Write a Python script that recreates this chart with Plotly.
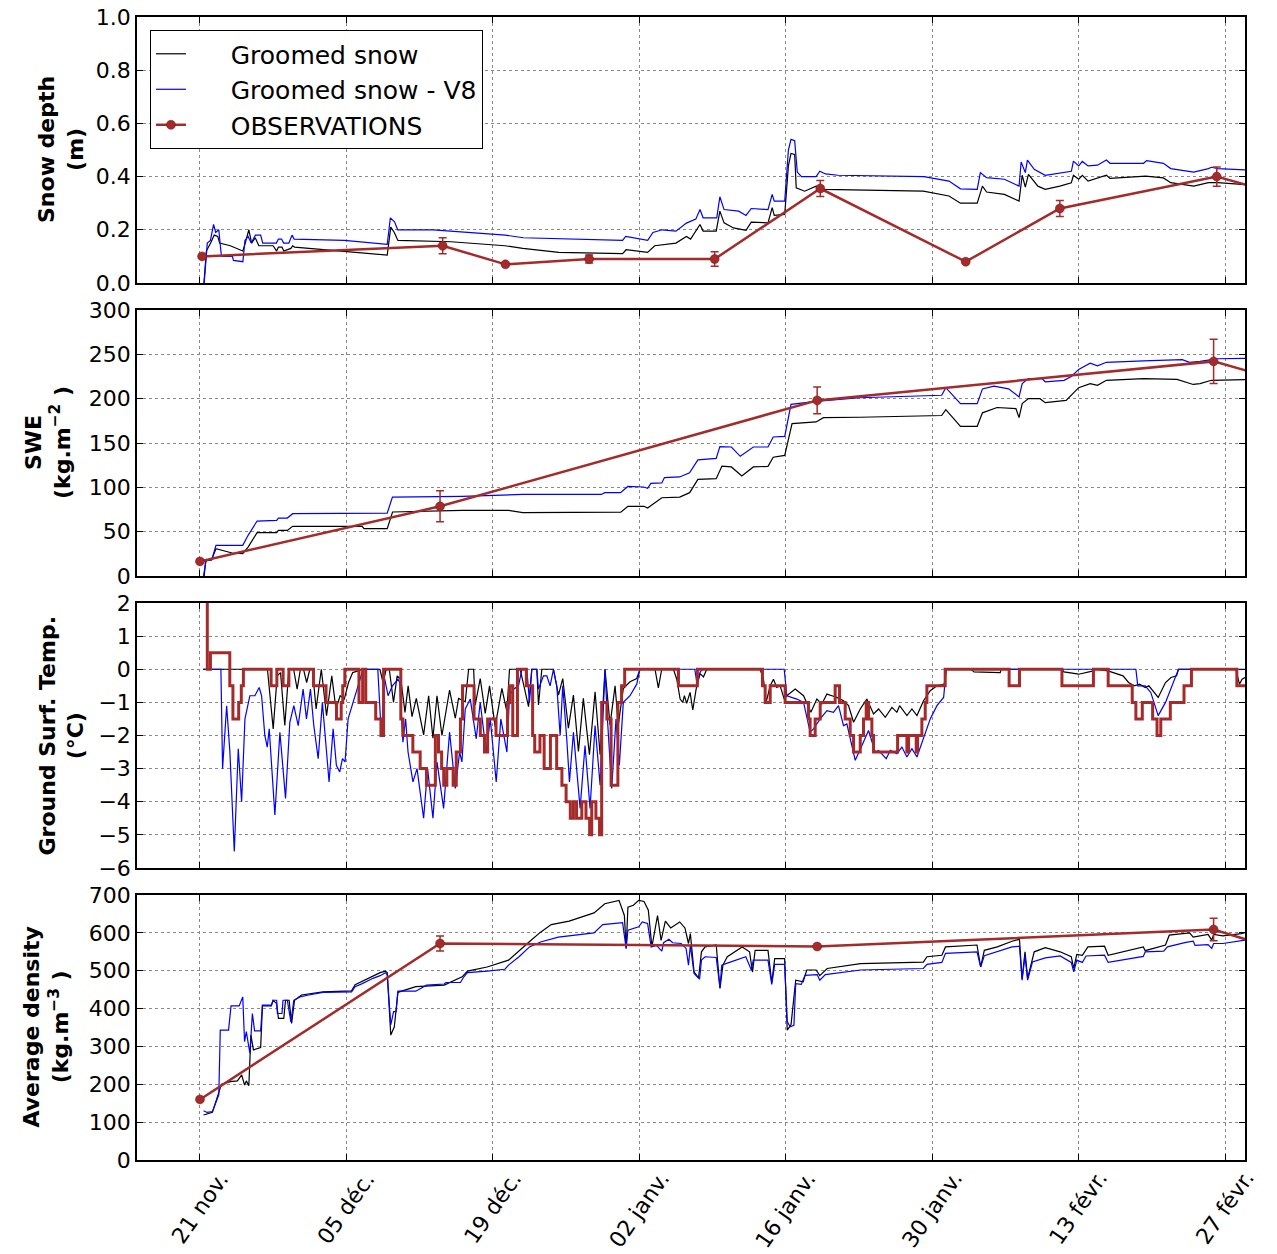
import pandas as pd
import plotly.graph_objects as go
from plotly.subplots import make_subplots

# ---------------- DATA (day offsets from 21 Nov, values) ----------------
START = pd.Timestamp("2010-11-21")
X_RANGE_DAYS = [-6.02, 99.9]
tick_days = [0, 14, 28, 42, 56, 70, 84, 98]
tick_labels = ["21 nov.", "05 déc.", "19 déc.", "02 janv.", "16 janv.", "30 janv.", "13 févr.", "27 févr."]

depth_groomed = [(0.38,0.0),(0.61,0.12),(1.02,0.15),(1.36,0.18),(1.70,0.175),(1.88,0.15),(2.90,0.14),(3.58,0.13),(4.09,0.12),(4.33,0.15),(4.67,0.20),(4.94,0.15),(5.28,0.17),(5.63,0.14),(6.99,0.14),(7.33,0.12),(7.50,0.135),(7.84,0.135),(8.01,0.12),(8.69,0.13),(8.86,0.14),(9.04,0.135),(13.81,0.12),(15.5,0.115),(17.90,0.105),(18.24,0.21),(18.58,0.19),(18.92,0.16),(24.0,0.155),(29.15,0.14),(30.86,0.13),(34.3,0.115),(40.40,0.11),(40.74,0.125),(42.79,0.115),(43.47,0.14),(44.5,0.145),(45.5,0.15),(46.5,0.175),(46.9,0.165),(47.8,0.22),(48.1,0.195),(49.35,0.195),(49.7,0.27),(50.1,0.226),(51.0,0.207),(52.2,0.198),(52.7,0.229),(54.3,0.226),(54.7,0.283),(54.9,0.254),(55.9,0.258),(56.25,0.44),(56.5,0.487),(56.85,0.483),(57.0,0.358),(57.8,0.345),(58.9,0.364),(59.6,0.352),(69.15,0.345),(71.6,0.327),(72.7,0.30),(74.3,0.30),(74.8,0.364),(75.2,0.342),(76.9,0.333),(78.3,0.308),(78.6,0.405),(78.9,0.36),(79.2,0.408),(80.1,0.364),(80.8,0.352),(82.2,0.364),(83.3,0.377),(83.5,0.405),(84.0,0.39),(84.35,0.405),(84.9,0.383),(86.65,0.405),(87.0,0.393),(90.4,0.402),(92.1,0.395),(92.8,0.377),(95.0,0.364),(96.4,0.377),(97.3,0.377),(99.9,0.37)]

depth_v8 = [(0.4,0.0),(0.7,0.15),(1.0,0.16),(1.3,0.22),(1.5,0.19),(1.8,0.20),(2.05,0.10),(3.1,0.10),(3.2,0.085),(4.1,0.08),(4.3,0.16),(4.6,0.175),(4.9,0.15),(5.3,0.18),(5.8,0.18),(6.0,0.15),(7.3,0.15),(7.5,0.165),(7.8,0.165),(8.0,0.15),(8.5,0.15),(8.8,0.18),(9.0,0.165),(13.8,0.16),(17.9,0.145),(18.2,0.245),(18.6,0.23),(18.9,0.20),(22.3,0.20),(29.2,0.18),(30.9,0.17),(40.4,0.16),(40.7,0.175),(42.8,0.16),(43.3,0.19),(44.2,0.20),(45.5,0.195),(46.5,0.225),(47.4,0.24),(47.8,0.276),(48.1,0.245),(49.4,0.245),(49.7,0.324),(50.1,0.276),(51.5,0.27),(52.2,0.254),(52.7,0.28),(54.3,0.276),(54.7,0.333),(54.9,0.308),(55.9,0.308),(56.25,0.50),(56.5,0.54),(56.85,0.535),(57.1,0.417),(57.5,0.40),(58.9,0.40),(59.25,0.42),(59.8,0.41),(61.0,0.405),(69.2,0.40),(71.6,0.383),(72.7,0.354),(74.3,0.352),(74.6,0.415),(75.2,0.396),(76.9,0.39),(78.3,0.364),(78.5,0.455),(78.9,0.415),(79.1,0.462),(79.75,0.427),(80.8,0.405),(82.2,0.415),(83.3,0.42),(83.5,0.458),(84.0,0.44),(84.35,0.457),(84.9,0.44),(85.8,0.443),(86.65,0.462),(87.0,0.45),(90.2,0.45),(90.5,0.46),(92.1,0.45),(92.8,0.43),(95.0,0.417),(96.4,0.43),(96.7,0.435),(97.3,0.43),(99.9,0.425)]

obs_depth_days = [0.2, 23.2, 29.2, 37.2, 49.2, 59.3, 73.2, 82.2, 97.2, 102.0]
obs_depth = [0.10, 0.14, 0.07, 0.09, 0.09, 0.355, 0.08, 0.28, 0.40, 0.347]
obs_depth_err = [0.005, 0.03, 0.0, 0.015, 0.027, 0.03, 0.0, 0.03, 0.036, 0.0]

swe_groomed = [(0.4,0),(0.55,17),(1.1,18),(1.53,30.8),(3.07,26),(4.09,25.2),(4.6,32.7),(5.46,48.9),(7.33,48.9),(7.5,51.5),(8.35,51.5),(8.86,56),(15.51,56),(15.68,53.4),(17.9,53.4),(18.41,72.2),(25.06,74),(29.49,74),(30.86,71.4),(38.36,71.4),(40.23,72),(40.91,78.6),(42.45,78.6),(42.79,76.7),(44.15,88.3),(45.86,89),(46.81,94),(47.6,109),(49.35,109.8),(49.9,124),(50.8,123),(51.8,112.8),(52.9,123),(54.3,123.7),(54.8,134),(55.9,136),(56.6,171.8),(58.9,173.7),(59.6,178.6),(63.1,179),(70.9,181),(71.3,187.6),(72.7,168.8),(74.3,168.8),(74.8,184),(76.2,190),(78.0,188.7),(78.3,178.6),(78.6,194.4),(79.2,200),(80.3,200),(80.8,195.5),(82.8,198),(84.0,212.4),(85.1,217),(85.8,215),(86.65,220.7),(90.2,222.6),(93.4,221.8),(94.95,216),(95.6,217),(96.7,220.7),(99.9,221.4)]

swe_v8 = [(0.34,0),(0.58,17.7),(1.13,18.4),(1.53,34.6),(4.09,34.6),(4.6,45.9),(5.46,62),(7.33,62.8),(7.5,65.4),(8.35,65.4),(8.86,70.3),(17.9,71),(18.4,89),(25.06,89.8),(30.86,92),(38.36,92),(38.7,94),(40.2,94),(40.9,101),(42.4,100.4),(42.8,99),(43.1,104.5),(44.15,105),(44.4,111),(45.86,111.7),(46.8,116.5),(47.6,131),(49.35,132.7),(49.7,146),(50.8,145.5),(51.65,135),(52.9,145.5),(54.3,145.5),(54.8,156.8),(55.9,157.5),(56.5,193.6),(58.9,197),(63.1,201),(70.9,203.8),(71.3,212.4),(72.7,194.4),(74.3,194.4),(74.8,211),(75.9,214),(77.3,211),(78.3,202),(78.6,217),(79.2,222.6),(80.5,222.6),(80.8,219),(82.6,220.7),(83.3,225),(84.0,233),(85.1,240),(85.8,237),(86.65,241),(90.2,242.5),(93.9,244),(94.6,241),(95.6,242),(96.7,244),(97.25,245),(99.9,245.5)]

obs_swe_days = [0.0, 22.95, 59.0, 96.9, 102.0]
obs_swe = [16.5, 78.6, 198, 242, 225]
obs_swe_err = [0, 17.5, 15, 25, 0]

temp_groomed = [(0.3,0),(6.45,0),(7.0,-1.8),(7.38,-0.2),(7.7,-0.1),(8.11,-1.7),(8.5,0),(8.95,0),(9.29,-0.6),(9.6,0),(9.9,0),(10.2,-0.4),(10.5,0),(10.75,0),(11.1,-1.2),(11.6,0),(12.1,-1.4),(12.6,-0.2),(13.0,-1.2),(13.4,-0.8),(13.8,-0.9),(14.2,-0.4),(14.6,-0.1),(15.6,0),(17.2,0),(17.5,-0.4),(17.8,0),(18.1,0),(18.5,-1.0),(18.85,-0.2),(19.2,-0.3),(19.6,-1.3),(19.9,-0.5),(20.27,-1.43),(20.68,-0.88),(21.38,-1.98),(21.86,-0.8),(22.27,-2.08),(22.66,-0.8),(23.13,-2.0),(23.86,-0.63),(24.41,-1.48),(24.72,-0.88),(25.36,-0.98),(25.68,0),(26.16,0),(26.31,-1.08),(26.79,-0.28),(27.27,-1.33),(27.68,-0.5),(28.22,-1.73),(28.86,-0.58),(29.34,-1.28),(29.59,0),(30.61,0),(31.41,-1.13),(31.72,0),(32.2,0),(32.36,-1.08),(32.68,0),(33.79,0),(34.27,-0.78),(34.68,-0.28),(35.22,-1.78),(35.7,-0.78),(36.18,-2.48),(36.65,-0.88),(37.23,-2.58),(37.77,-0.68),(38.25,-2.58),(38.72,0),(39.2,-1.68),(39.68,-0.5),(39.99,-1.68),(40.47,-0.58),(41.11,-0.38),(41.75,-0.28),(42.06,0),(43.5,0),(43.82,-0.56),(44.14,0),(45.26,0),(45.58,-0.3),(45.9,-0.9),(46.15,-1.0),(46.31,-0.8),(46.53,-1.03),(46.85,-0.7),(47.11,-1.23),(47.43,-0.6),(47.81,-0.13),(48.13,-0.23),(48.45,0),(53.55,0),(53.87,-0.3),(54.12,-1.0),(54.51,-0.5),(54.82,-0.3),(55.14,-0.55),(55.46,-0.5),(55.85,-0.9),(56.1,-0.8),(56.9,-0.6),(57.7,-0.8),(58.4,-1.3),(58.97,-0.9),(59.45,-1.05),(59.93,-0.75),(60.41,-0.8),(60.88,-0.85),(61.52,-0.95),(62.0,-1.1),(62.48,-1.6),(63.12,-1.2),(63.75,-0.9),(64.39,-1.35),(64.87,-1.2),(65.51,-1.45),(66.15,-1.15),(66.62,-1.3),(66.88,-1.1),(67.58,-1.4),(68.06,-1.2),(68.54,-1.4),(69.17,-0.95),(69.81,-0.65),(70.45,-0.5),(71.15,-0.45),(71.34,0),(73.7,0),(74.0,-0.08),(76.5,-0.1),(76.6,0),(82.4,0),(82.6,-0.08),(84.0,-0.15),(85.4,-0.05),(85.5,0),(86.8,-0.05),(88.24,-0.2),(88.77,-0.4),(89.3,-0.5),(89.83,-0.45),(90.36,-0.55),(90.71,-0.5),(91.6,-0.85),(92.3,-0.4),(92.83,-0.25),(93.36,-0.2),(93.54,0),(99.02,0),(99.37,-0.45),(99.62,-0.3),(99.9,-0.25)]

temp_v8 = [(0.3,0),(2.0,0),(2.16,-3.0),(2.55,-1.1),(2.86,-2.5),(3.28,-5.5),(3.66,-2.4),(3.98,-4.0),(4.3,-1.5),(4.77,-0.8),(5.25,-0.8),(5.66,-0.55),(5.89,-0.8),(6.2,-2.0),(6.43,-2.35),(6.62,-1.8),(7.16,-4.4),(7.64,-1.9),(8.18,-3.9),(8.59,-1.6),(8.97,-1.1),(9.39,-1.7),(9.86,-0.6),(10.18,-1.5),(10.56,-0.6),(10.88,-1.7),(11.3,-2.7),(11.7,-1.0),(12.34,-3.4),(12.73,-1.8),(13.04,-2.9),(13.36,-3.1),(13.62,-2.7),(13.87,-2.8),(14.16,-1.5),(14.64,-1.0),(15.27,-0.4),(15.59,0),(17.0,0),(17.34,-2.0),(17.66,-0.3),(17.98,-0.8),(18.4,-0.5),(18.93,-0.3),(19.09,-0.4),(19.4,-2.2),(19.66,-1.5),(19.89,-2.5),(20.36,-3.4),(20.75,-3.0),(21.38,-4.5),(21.76,-3.0),(22.27,-4.5),(22.66,-2.8),(23.29,-4.2),(23.86,-1.9),(24.41,-3.6),(24.82,-2.5),(25.04,-2.8),(25.36,-1.2),(25.84,-0.9),(26.41,-2.1),(26.79,-1.0),(27.36,-2.5),(27.75,-1.5),(28.32,-3.4),(28.76,-1.5),(29.34,-2.5),(29.59,-0.8),(29.97,-0.6),(30.45,-0.5),(30.77,0),(31.25,0),(31.5,-1.0),(31.72,0),(32.2,0),(32.36,-0.6),(32.84,-0.2),(33.16,-0.2),(33.47,-0.5),(33.79,0),(34.11,-0.5),(34.43,-2.0),(34.68,-0.5),(35.06,-2.1),(35.32,-3.4),(35.7,-1.9),(36.34,-4.2),(36.81,-2.3),(37.29,-4.2),(37.77,-1.7),(38.25,-3.5),(38.72,0),(38.95,-1.5),(39.36,-3.6),(39.77,-1.5),(40.09,-2.9),(40.47,-1.0),(41.11,-0.8),(41.75,-0.45),(42.06,0),(47.3,0),(47.5,-0.4),(47.8,-0.1),(48.0,0),(55.85,0),(56.1,-0.8),(57.06,-0.9),(57.7,-1.0),(58.33,-1.9),(58.65,-1.8),(59.29,-1.5),(59.93,-1.25),(60.56,-1.3),(61.04,-1.1),(61.52,-1.7),(61.84,-1.65),(62.64,-2.75),(63.28,-2.3),(63.91,-1.85),(64.55,-2.5),(64.87,-2.45),(65.6,-2.7),(65.99,-2.45),(66.62,-2.55),(67.1,-2.35),(67.58,-2.65),(68.06,-2.4),(68.54,-2.65),(69.17,-2.1),(69.81,-1.5),(70.45,-1.1),(71.09,-0.85),(71.34,0),(89.47,0),(89.65,-0.5),(90.36,-0.5),(90.89,-0.7),(91.6,-1.4),(92.3,-1.0),(93.0,-0.45),(93.54,0),(99.9,0)]

temp_obs = [(0.60,3.0),(0.70,0.0),(1.0,0.5),(2.85,-0.5),(3.15,-1.5),(3.7,-1.0),(3.95,-0.5),(4.15,0.0),(6.8,-0.5),(7.35,0.0),(7.95,-0.5),(8.5,0.0),(10.85,-0.5),(12.05,-1.0),(13.05,-1.5),(13.5,-1.0),(13.65,-0.5),(13.85,0.0),(15.2,-1.0),(15.55,0.0),(15.85,-1.0),(16.8,-1.5),(17.3,-2.0),(17.55,0.0),(19.2,-1.5),(19.4,-2.0),(20.35,-2.5),(21.05,-3.0),(21.65,-3.5),(22.5,-2.0),(22.8,-2.5),(23.1,-3.0),(23.3,-3.5),(23.6,-3.0),(24.2,-3.5),(24.5,-2.5),(24.9,-1.5),(25.1,-0.5),(26.2,-1.5),(26.8,-2.0),(27.2,-2.5),(27.5,-1.5),(28.3,-2.0),(29.4,-1.0),(29.6,-0.5),(29.9,-2.0),(30.35,0.0),(31.2,-0.5),(31.8,-2.0),(32.0,-2.5),(32.5,-2.0),(32.9,-3.0),(33.5,-2.0),(34.1,-3.0),(34.6,-3.5),(35.0,-4.0),(35.4,-4.5),(35.7,-4.0),(36.0,-4.5),(36.5,-4.0),(36.9,-4.5),(37.25,-5.0),(37.45,-4.0),(37.85,-4.5),(38.2,-5.0),(38.4,-1.0),(38.9,-1.5),(39.3,-3.5),(39.95,-1.0),(40.3,-0.5),(40.6,0.0),(45.74,-0.5),(47.55,0.0),(53.77,-0.5),(54.03,-1.0),(54.51,-0.5),(55.94,-1.0),(58.17,-1.5),(58.33,-2.0),(58.81,-1.5),(59.29,-1.0),(60.72,-0.5),(61.14,-1.0),(61.68,-1.5),(62.16,-2.0),(62.48,-2.5),(63.12,-2.0),(63.43,-1.5),(63.69,-1.0),(63.91,-1.5),(64.23,-2.0),(64.39,-2.5),(66.69,-2.0),(67.58,-2.5),(67.74,-2.0),(68.47,-2.5),(68.6,-2.0),(69.01,-1.5),(69.33,-1.0),(69.49,-0.5),(71.24,0.0),(77.35,-0.5),(78.34,0.0),(82.4,-0.5),(85.41,0.0),(86.82,-0.5),(89.12,-1.0),(89.47,-1.5),(90.08,-1.0),(91.07,-1.5),(91.49,-2.0),(91.85,-1.5),(92.76,-1.0),(94.07,-0.5),(94.78,0.0),(99.12,-0.5),(100.5,-0.5)]

dens_groomed = [(0.34,119),(1.19,126),(1.7,170),(2.05,200),(2.9,207),(3.58,209),(3.99,225),(4.26,198),(4.43,209),(4.67,196),(4.87,330),(5.11,291),(5.8,297),(5.97,407),(6.82,407),(6.99,422),(7.33,413),(7.5,374),(8.01,374),(8.18,422),(8.52,422),(8.76,361),(9.04,422),(9.7,436),(11.76,444),(14.49,447),(14.83,463),(15.51,472),(16.54,484),(17.22,495),(17.73,499),(17.9,495),(18.24,330),(18.58,352),(18.92,443),(20.63,458),(23.35,462),(25.06,484),(25.57,499),(27.45,510),(29.5,528),(30.17,545),(31.54,578),(32.56,602),(33.58,622),(35.29,631),(37.67,653),(38.7,677),(40.06,686),(40.57,646),(40.74,559),(40.91,668),(41.43,673),(41.94,686),(42.45,683),(42.86,660),(43.2,563),(43.74,646),(44.08,580),(44.49,631),(45.0,613),(45.86,629),(46.36,613),(46.7,572),(46.88,598),(47.23,497),(47.66,481),(47.94,550),(48.29,563),(49.35,568),(49.71,453),(49.99,515),(50.41,537),(51.83,563),(52.54,550),(52.82,496),(53.07,554),(54.3,554),(54.66,469),(54.94,532),(55.89,532),(56.14,343),(56.5,357),(56.95,475),(57.66,471),(58.01,502),(58.9,502),(59.25,487),(59.96,506),(63.14,519),(69.15,523),(69.5,537),(70.92,541),(71.27,563),(74.28,568),(74.63,510),(74.98,554),(76.22,563),(77.63,578),(78.34,583),(78.59,478),(78.87,550),(79.12,480),(79.75,550),(80.81,561),(82.23,550),(83.29,537),(83.53,506),(83.82,543),(84.35,541),(84.88,563),(86.47,565),(86.82,541),(90.18,563),(90.36,553),(92.3,568),(92.66,594),(94.6,600),(94.95,589),(96.37,596),(96.72,581),(96.9,596),(97.78,592),(99.55,598),(99.9,601)]

dens_v8 = [(0.34,130),(0.68,125.6),(1.19,128),(1.47,146),(1.8,172),(1.94,343),(2.73,343),(2.97,407),(3.75,407),(4.09,431),(4.26,313),(4.43,339),(4.77,282),(5.01,387),(5.22,341),(5.8,341),(5.97,409),(6.82,409),(6.99,422),(7.33,422),(7.4,387),(7.84,387),(7.94,422),(8.35,422),(8.69,365),(8.97,422),(9.55,431),(10.4,436),(11.76,443),(14.49,444),(14.83,458),(15.51,466),(16.54,480),(17.22,487),(17.73,495),(17.9,490),(18.24,357),(18.51,392),(18.75,392),(18.92,446),(20.63,446),(21.65,462),(23.35,465),(23.5,469),(24.9,469),(25.23,484),(25.57,495),(27.45,499),(29.15,504),(29.5,515),(30.5,537),(31.5,563),(32.56,576),(34.26,589),(37.67,600),(38.5,622),(40.4,627),(40.74,559),(40.91,607),(41.94,616),(42.28,629),(42.79,625),(43.13,563),(43.64,567),(44.15,552),(44.32,574),(44.83,583),(45.18,574),(46.0,572),(46.47,559),(46.7,515),(46.88,567),(47.23,493),(47.76,478),(47.94,528),(48.29,537),(49.35,535),(49.71,455),(49.88,515),(50.41,520),(52.18,537),(52.71,502),(52.89,528),(54.3,528),(54.66,464),(54.94,517),(55.89,517),(56.14,366),(56.42,352),(56.78,356),(56.95,466),(57.48,464),(57.84,488),(59.0,490),(59.25,475),(59.78,490),(61.02,495),(63.14,502),(69.15,506),(69.5,517),(70.92,522),(71.27,546),(74.28,550),(74.63,510),(74.98,540),(76.22,550),(77.63,563),(78.34,565),(78.59,475),(78.87,540),(79.12,475),(79.58,523),(80.81,534),(82.23,539),(83.29,522),(83.53,497),(83.82,528),(84.35,522),(84.7,539),(86.47,541),(86.82,522),(90.18,538),(90.36,550),(92.13,552),(92.48,563),(94.25,575),(94.95,578),(95.13,567),(96.37,569),(96.72,559),(96.9,572),(97.78,572),(99.9,581)]

obs_dens_days = [0.0, 22.95, 59.0, 96.9, 102.0]
obs_dens = [160, 572, 564, 609, 566]
obs_dens_err = [0, 20, 0, 30, 0]

legend_names = ["Groomed snow", "Groomed snow - V8", "OBSERVATIONS"]

# ---------------- helpers ----------------
def dates(days):
    return START + pd.to_timedelta(list(days), unit="D")

def split(pairs):
    return dates([p[0] for p in pairs]), [p[1] for p in pairs]

C_BLACK = "#000000"
C_BLUE = "#0000ff"
C_OBS = "#a52a2a"
FONT = "DejaVu Sans"
PAD = "\u00a0" * 5

fig = make_subplots(rows=4, cols=1)

series = [
    (1, depth_groomed, depth_v8, obs_depth_days, obs_depth, obs_depth_err),
    (2, swe_groomed, swe_v8, obs_swe_days, obs_swe, obs_swe_err),
    (4, dens_groomed, dens_v8, obs_dens_days, obs_dens, obs_dens_err),
]

for row, g, v8, od, ov, oe in series:
    first = row == 1
    x, y = split(g)
    fig.add_trace(go.Scatter(x=x, y=y, mode="lines", line=dict(color=C_BLACK, width=1.2),
                             name=PAD + legend_names[0], legendgroup="g1",
                             showlegend=first), row=row, col=1)
    x, y = split(v8)
    fig.add_trace(go.Scatter(x=x, y=y, mode="lines", line=dict(color=C_BLUE, width=1.2),
                             name=PAD + legend_names[1], legendgroup="g2",
                             showlegend=first), row=row, col=1)
    fig.add_trace(go.Scatter(x=dates(od), y=ov, mode="lines+markers",
                             line=dict(color=C_OBS, width=2.5),
                             marker=dict(color=C_OBS, size=9, line=dict(color="#6b1a1a", width=0.5)),
                             error_y=dict(type="data", array=oe, color=C_OBS, thickness=1.5, width=4),
                             name=PAD + legend_names[2], legendgroup="g3",
                             showlegend=first), row=row, col=1)

x, y = split(temp_groomed)
fig.add_trace(go.Scatter(x=x, y=y, mode="lines", line=dict(color=C_BLACK, width=1.2),
                         legendgroup="g1", showlegend=False), row=3, col=1)
x, y = split(temp_v8)
fig.add_trace(go.Scatter(x=x, y=y, mode="lines", line=dict(color=C_BLUE, width=1.2),
                         legendgroup="g2", showlegend=False), row=3, col=1)
x, y = split(temp_obs)
fig.add_trace(go.Scatter(x=x, y=y, mode="lines", line=dict(color=C_OBS, width=3, shape="hv"),
                         legendgroup="g3", showlegend=False), row=3, col=1)

# ---------------- layout ----------------
x_range = [str(START + pd.Timedelta(days=X_RANGE_DAYS[0])), str(START + pd.Timedelta(days=X_RANGE_DAYS[1]))]
tick_dates = [str(d) for d in dates(tick_days)]

common = dict(showline=True, linecolor="black", linewidth=1.5, mirror="ticks",
              ticks="inside", ticklen=6, tickwidth=1, tickcolor="black",
              showgrid=True, gridcolor="#8a8a8a", griddash="dot", gridwidth=1,
              zeroline=False, automargin=False,
              tickfont=dict(family=FONT, size=22, color="black"))

domains = [[0.7673, 1.0], [0.5109, 0.7437], [0.2555, 0.4873], [0.0, 0.2318]]
yspecs = [dict(range=[0, 1.0], dtick=0.2, tick0=0, tickformat=".1f"),
          dict(range=[0, 300], dtick=50, tick0=0),
          dict(range=[-6, 2], dtick=1, tick0=0),
          dict(range=[0, 700], dtick=100, tick0=0)]

for i in range(4):
    sfx = "" if i == 0 else str(i + 1)
    fig.update_layout({
        "xaxis" + sfx: dict(common, type="date", range=x_range, tickvals=tick_dates,
                            showticklabels=False),
        "yaxis" + sfx: dict(common, domain=domains[i], **yspecs[i]),
    })

ytitles = [("<b>Snow depth</b><br><b>(m)</b>", 61),
           ("<b>SWE</b><br><b>(kg.m<sup>−2</sup> )</b>", 48),
           ("<b>Ground Surf. Temp.</b><br><b>(°C)</b>", 62),
           ("<b>Average density</b><br><b>(kg.m<sup>−3</sup> )</b>", 46)]
annotations = []
for i, (txt, cx) in enumerate(ytitles):
    sfx = "" if i == 0 else str(i + 1)
    annotations.append(dict(text=txt, xref="x" + sfx + " domain", yref="y" + sfx + " domain",
                            x=0, y=0.5, xshift=cx - 137, xanchor="center", yanchor="middle",
                            textangle=-90, showarrow=False,
                            font=dict(family=FONT, size=22, color="black")))
for d, lab in zip(tick_dates, tick_labels):
    annotations.append(dict(text=lab, xref="x4", yref="y4 domain", x=d, y=0, yshift=-4,
                            xanchor="center", yanchor="top", textangle=-55, showarrow=False,
                            font=dict(family=FONT, size=22, color="black")))

fig.update_layout(
    width=1277, height=1254,
    margin=dict(l=137, r=32, t=17, b=94, autoexpand=False),
    paper_bgcolor="white", plot_bgcolor="white",
    showlegend=True,
    legend=dict(x=0.0117, y=0.9886, xanchor="left", yanchor="top",
                bordercolor="black", borderwidth=1, bgcolor="white",
                font=dict(family=FONT, size=25, color="black"),
                traceorder="grouped", tracegroupgap=0, groupclick="toggleitem"),
    annotations=annotations,
)

fig.write_html("out.html")
